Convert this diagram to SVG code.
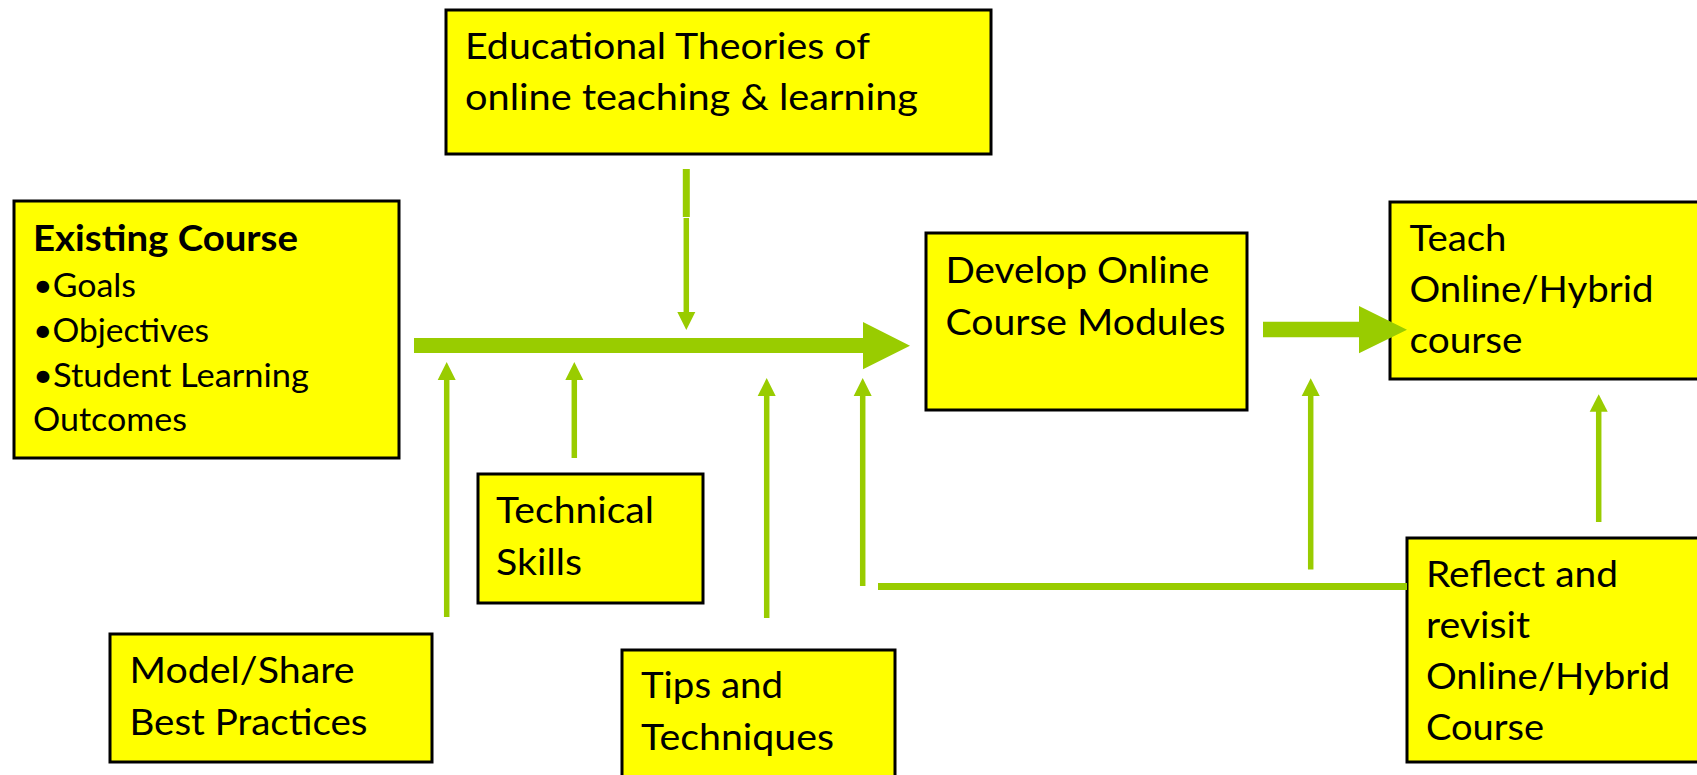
<svg xmlns="http://www.w3.org/2000/svg" width="1697" height="775" viewBox="0 0 1697 775">
  <style>
    .box { fill: #FFFF00; stroke: #000000; stroke-width: 3; }
    .lbl { font-family: Lato, "Liberation Sans", sans-serif; font-size: 37px; fill: #000000; }
    .sm { font-size: 32px; }
    .bold { font-weight: bold; font-size: 36px; }
    .wire { stroke: #99CC00; stroke-width: 5.5; fill: none; }
    .fat { fill: #99CC00; }
  </style>
  <rect width="1697" height="775" fill="#FFFFFF"/>

  <g id="node-theories">
    <rect class="box" x="446" y="10" width="545" height="144"/>
    <text class="lbl" x="465" y="59" textLength="405" lengthAdjust="spacingAndGlyphs">Educational Theories of</text>
    <text class="lbl" x="465" y="110" textLength="453" lengthAdjust="spacingAndGlyphs">online teaching &amp; learning</text>
  </g>

  <g id="node-existing">
    <rect class="box" x="14" y="201" width="385" height="257"/>
    <text class="lbl bold" x="33" y="251" textLength="265" lengthAdjust="spacingAndGlyphs">Existing Course</text>
    <text class="lbl sm" x="33" y="297" textLength="103" lengthAdjust="spacingAndGlyphs">•Goals</text>
    <text class="lbl sm" x="33" y="342" textLength="176" lengthAdjust="spacingAndGlyphs">•Objectives</text>
    <text class="lbl sm" x="33" y="387" textLength="276" lengthAdjust="spacingAndGlyphs">•Student Learning</text>
    <text class="lbl sm" x="33" y="431" textLength="154" lengthAdjust="spacingAndGlyphs">Outcomes</text>
  </g>

  <g id="node-develop">
    <rect class="box" x="926" y="233" width="321" height="177"/>
    <text class="lbl" x="945.5" y="283" textLength="264" lengthAdjust="spacingAndGlyphs">Develop Online</text>
    <text class="lbl" x="945.5" y="335" textLength="280" lengthAdjust="spacingAndGlyphs">Course Modules</text>
  </g>

  <g id="node-teach">
    <rect class="box" x="1390" y="202" width="310" height="177"/>
    <text class="lbl" x="1409.5" y="251" textLength="97" lengthAdjust="spacingAndGlyphs">Teach</text>
    <text class="lbl" x="1409.5" y="302" textLength="244" lengthAdjust="spacingAndGlyphs">Online/Hybrid</text>
    <text class="lbl" x="1409.5" y="353" textLength="113" lengthAdjust="spacingAndGlyphs">course</text>
  </g>

  <g id="node-technical">
    <rect class="box" x="478" y="474" width="225" height="129"/>
    <text class="lbl" x="496" y="523" textLength="158" lengthAdjust="spacingAndGlyphs">Technical</text>
    <text class="lbl" x="496" y="575" textLength="86" lengthAdjust="spacingAndGlyphs">Skills</text>
  </g>

  <g id="node-model">
    <rect class="box" x="110" y="634" width="322" height="128"/>
    <text class="lbl" x="129.5" y="683" textLength="225" lengthAdjust="spacingAndGlyphs">Model/Share</text>
    <text class="lbl" x="129.5" y="735" textLength="238" lengthAdjust="spacingAndGlyphs">Best Practices</text>
  </g>

  <g id="node-tips">
    <rect class="box" x="622" y="650" width="273" height="140"/>
    <text class="lbl" x="641" y="698" textLength="142" lengthAdjust="spacingAndGlyphs">Tips and</text>
    <text class="lbl" x="641" y="750" textLength="193" lengthAdjust="spacingAndGlyphs">Techniques</text>
  </g>

  <g id="node-reflect">
    <rect class="box" x="1407" y="538" width="295" height="224"/>
    <text class="lbl" x="1426" y="587" textLength="192" lengthAdjust="spacingAndGlyphs">Reflect and</text>
    <text class="lbl" x="1426" y="638" textLength="104" lengthAdjust="spacingAndGlyphs">revisit</text>
    <text class="lbl" x="1426" y="689" textLength="244" lengthAdjust="spacingAndGlyphs">Online/Hybrid</text>
    <text class="lbl" x="1426" y="740" textLength="118" lengthAdjust="spacingAndGlyphs">Course</text>
  </g>

  <g id="connectors">
    <!-- main flow: existing course into module development -->
    <polygon class="fat" points="414,338 863,338 863,322 910,345.7 863,369.3 863,353 414,353"/>
    <!-- modules into teaching -->
    <polygon class="fat" points="1263,321.7 1359,321.7 1359,306 1407,329.7 1359,353.3 1359,337.3 1263,337.3"/>

    <!-- theories feed down onto the main flow -->
    <rect class="fat" x="682.8" y="169" width="7" height="48"/>
    <line class="wire" x1="686.3" y1="218" x2="686.3" y2="314"/>
    <polygon class="fat" points="677.3,312 695.3,312 686.3,330"/>

    <!-- model/share best practices -->
    <line class="wire" x1="446.7" y1="617" x2="446.7" y2="378"/>
    <polygon class="fat" points="437.7,380 455.7,380 446.7,362"/>

    <!-- technical skills -->
    <line class="wire" x1="574.3" y1="458" x2="574.3" y2="378"/>
    <polygon class="fat" points="565.3,380 583.3,380 574.3,362"/>

    <!-- tips and techniques -->
    <line class="wire" x1="766.7" y1="618" x2="766.7" y2="394"/>
    <polygon class="fat" points="757.7,396 775.7,396 766.7,378"/>

    <!-- feedback loop from reflection -->
    <line class="wire" x1="862.7" y1="586" x2="862.7" y2="394"/>
    <polygon class="fat" points="853.7,396 871.7,396 862.7,378"/>
    <line stroke="#99CC00" stroke-width="7" x1="878" y1="586.4" x2="1407" y2="586.4"/>
    <line class="wire" x1="1310.7" y1="569.5" x2="1310.7" y2="394"/>
    <polygon class="fat" points="1301.7,396 1319.7,396 1310.7,378.3"/>

    <!-- reflection back up to teaching -->
    <line class="wire" x1="1598.7" y1="522" x2="1598.7" y2="410"/>
    <polygon class="fat" points="1589.7,411.7 1607.7,411.7 1598.7,394.3"/>
  </g>
</svg>
